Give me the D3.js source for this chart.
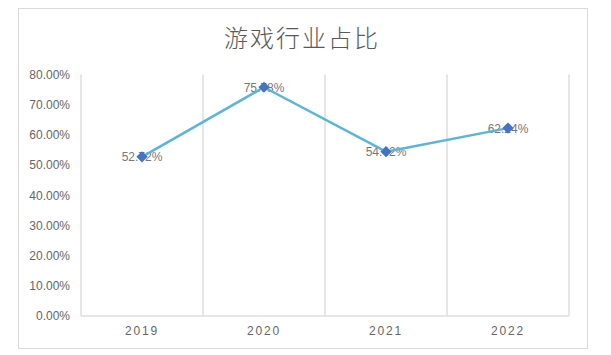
<!DOCTYPE html>
<html>
<head>
<meta charset="utf-8">
<script src="https://cdn.jsdelivr.net/npm/d3@7"></script>
<style>
  body { margin: 0; background: #fff; }
  svg { display: block; }
  text { font-family: "Liberation Sans", Arial, sans-serif; fill: #666; }
</style>
</head>
<body>
<div id="chart"></div>
<script>
// datos:
const title = "游戏行业占比"
const years = ["2019", "2020", "2021", "2022"]
const shares = [52.72, 75.78, 54.42, 62.24]
const yTicks = [0, 10, 20, 30, 40, 50, 60, 70, 80]

// constantes:
const width = 611
const height = 355
const margins = { top: 74.5, left: 81, right: 42, bottom: 39 }
const eWidth = width - margins.left - margins.right
const eHeight = height - margins.top - margins.bottom
const gridColor = "#dedede"
const textColor = "#666"

let svg = d3.select('div#chart').append('svg').attr('width', width).attr('height', height)

// marco exterior
svg.append('rect')
    .attr('x', 18.5).attr('y', 8.5)
    .attr('width', 569).attr('height', 340)
    .attr('fill', '#fff').attr('stroke', '#d9d9d9').attr('stroke-width', 1)

// titulo
svg.append('text')
    .attr('x', 302).attr('y', 47)
    .attr('text-anchor', 'middle')
    .style('font-family', '"Noto Sans CJK SC", sans-serif')
    .style('font-size', '24px')
    .style('font-weight', 300)
    .style('letter-spacing', '2px')
    .style('fill', '#595959')
    .text(title)

let elementGroup = svg.append('g').attr('transform', `translate(${margins.left}, ${margins.top})`)

// escalas:
let x = d3.scaleBand().range([0, eWidth]).domain(years)
let y = d3.scaleLinear().range([eHeight, 0]).domain([0, 80])

// rejilla vertical (separadores de categoria)
let edges = d3.range(years.length + 1).map(i => i * x.step())
elementGroup.selectAll('line.sep').data(edges).enter().append('line')
    .attr('class', 'sep')
    .attr('x1', d => d).attr('x2', d => d)
    .attr('y1', 0).attr('y2', eHeight)
    .attr('stroke', gridColor).attr('stroke-width', 1.5)

elementGroup.append('line')
    .attr('x1', 0).attr('x2', eWidth)
    .attr('y1', eHeight).attr('y2', eHeight)
    .attr('stroke', gridColor).attr('stroke-width', 1.5)

// eje y (solo etiquetas)
let yAxis = d3.axisLeft(y).tickValues(yTicks).tickSize(0).tickPadding(11)
    .tickFormat(d => d3.format('.2f')(d) + '%')
let yAxisGroup = svg.append('g').attr('transform', `translate(${margins.left}, ${margins.top})`).call(yAxis)
yAxisGroup.select('.domain').remove()
yAxisGroup.selectAll('text').style('font-size', '12px').style('fill', textColor)

// eje x
let xAxis = d3.axisBottom(x).tickSize(0).tickPadding(10)
let xAxisGroup = svg.append('g').attr('transform', `translate(${margins.left}, ${height - margins.bottom})`).call(xAxis)
xAxisGroup.select('.domain').remove()
xAxisGroup.selectAll('text').style('font-size', '12px').style('letter-spacing', '1.8px').style('fill', textColor)

// datos
let data = years.map((d, i) => ({ year: d, value: shares[i] }))
let cx = d => x(d.year) + x.bandwidth() / 2

// etiquetas de datos (debajo de los marcadores)
elementGroup.selectAll('text.lbl').data(data).enter().append('text')
    .attr('class', 'lbl')
    .attr('x', cx)
    .attr('y', d => y(d.value) + 4.5)
    .attr('text-anchor', 'middle')
    .style('font-size', '12px')
    .style('fill', '#777')
    .text(d => d3.format('.2f')(d.value) + '%')

let line = d3.line().x(cx).y(d => y(d.value))
elementGroup.append('path').datum(data)
    .attr('d', line)
    .attr('fill', 'none')
    .attr('stroke', '#5ab4dc')
    .attr('stroke-width', 2.5)
    .attr('stroke-linejoin', 'round')

let diamond = d3.symbol().type(d3.symbolDiamond2).size(80)
elementGroup.selectAll('path.pt').data(data).enter().append('path')
    .attr('class', 'pt')
    .attr('d', diamond)
    .attr('transform', d => `translate(${cx(d)}, ${y(d.value)})`)
    .attr('fill', '#4472c4')
</script>
</body>
</html>
